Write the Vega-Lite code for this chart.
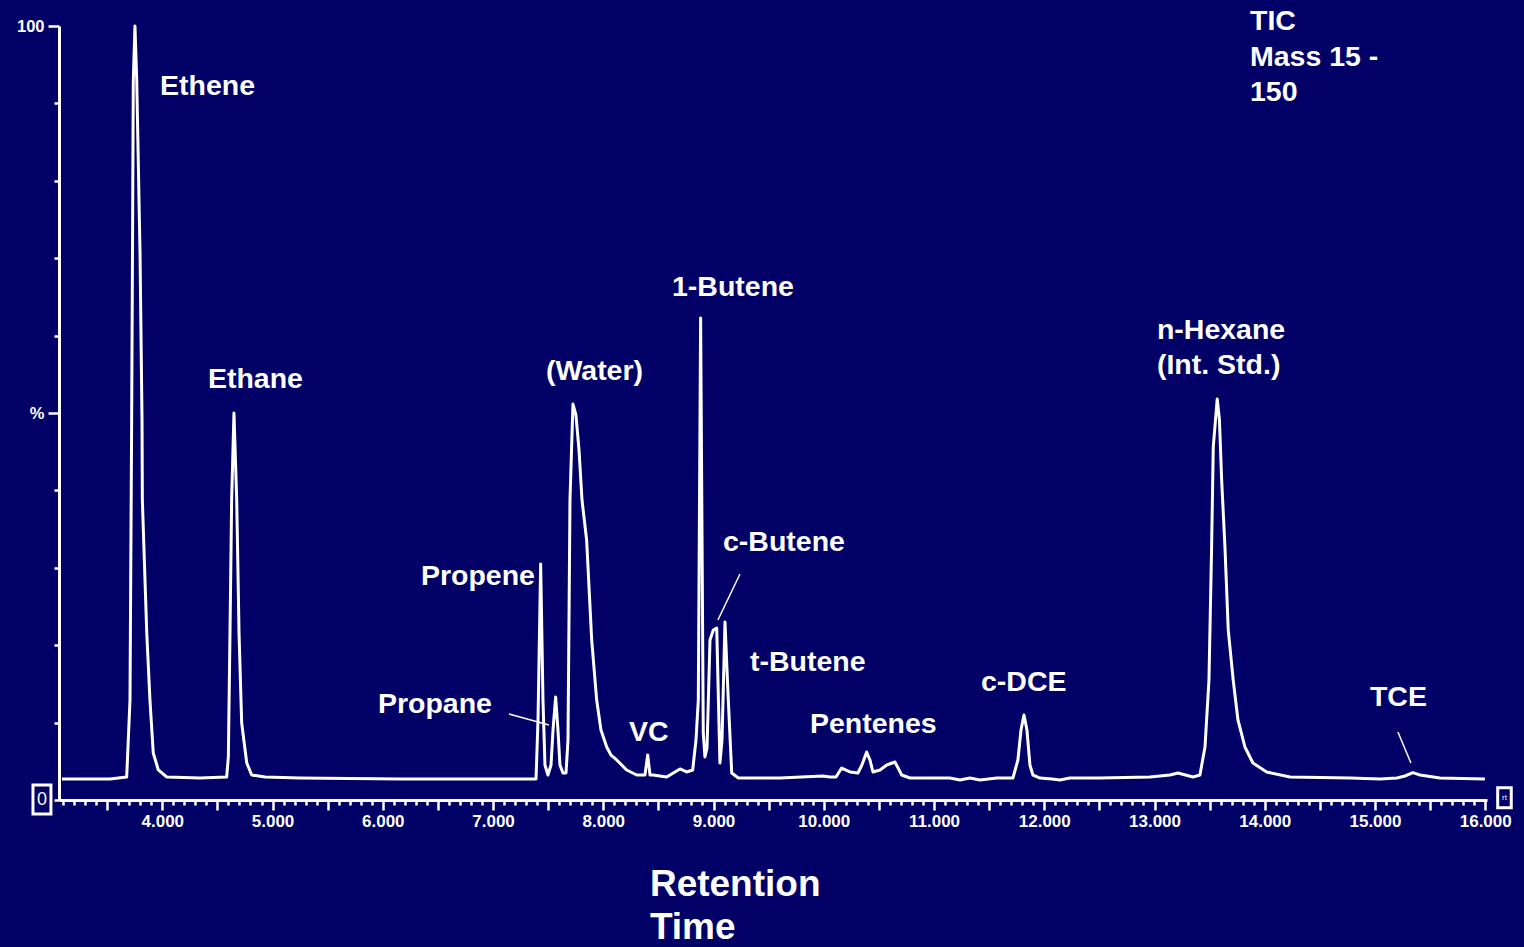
{
  "$schema": "https://vega.github.io/schema/vega-lite/v6.json",
  "width": 1428,
  "height": 774,
  "autosize": {"type": "none"},
  "padding": {"left": 59, "top": 26, "right": 37, "bottom": 147},
  "background": "#000066",
  "config": {
    "view": {"stroke": null},
    "text": {"font": "Liberation Sans", "fontWeight": "bold", "color": "white"}
  },
  "datasets": {
    "trace": [
      {"t": 3.090, "v": 2.71}, {"t": 3.526, "v": 2.71}, {"t": 3.677, "v": 2.97}, {"t": 3.707, "v": 12.92},
      {"t": 3.722, "v": 49.10}, {"t": 3.731, "v": 74.94}, {"t": 3.737, "v": 93.02}, {"t": 3.752, "v": 100},
      {"t": 3.768, "v": 93.02}, {"t": 3.798, "v": 70.67}, {"t": 3.816, "v": 49.10}, {"t": 3.819, "v": 38.76},
      {"t": 3.859, "v": 21.58}, {"t": 3.888, "v": 12.92}, {"t": 3.918, "v": 6.07}, {"t": 3.964, "v": 3.88},
      {"t": 4.040, "v": 2.97}, {"t": 4.342, "v": 2.84}, {"t": 4.584, "v": 2.97}, {"t": 4.599, "v": 5.56},
      {"t": 4.614, "v": 21.58}, {"t": 4.629, "v": 38.76}, {"t": 4.650, "v": 50.0}, {"t": 4.675, "v": 38.76},
      {"t": 4.696, "v": 21.58}, {"t": 4.720, "v": 9.95}, {"t": 4.766, "v": 4.78}, {"t": 4.811, "v": 3.23},
      {"t": 4.932, "v": 2.97}, {"t": 5.249, "v": 2.84}, {"t": 6.156, "v": 2.71}, {"t": 7.063, "v": 2.71},
      {"t": 7.390, "v": 2.71}, {"t": 7.408, "v": 10.34}, {"t": 7.432, "v": 30.49}, {"t": 7.453, "v": 12.92},
      {"t": 7.471, "v": 4.52}, {"t": 7.498, "v": 3.23}, {"t": 7.526, "v": 4.52}, {"t": 7.544, "v": 9.04},
      {"t": 7.568, "v": 13.31}, {"t": 7.589, "v": 9.04}, {"t": 7.607, "v": 4.52}, {"t": 7.634, "v": 3.49},
      {"t": 7.662, "v": 3.49}, {"t": 7.680, "v": 7.75}, {"t": 7.698, "v": 38.76}, {"t": 7.725, "v": 51.16},
      {"t": 7.752, "v": 49.74}, {"t": 7.780, "v": 45.22}, {"t": 7.807, "v": 38.76}, {"t": 7.849, "v": 33.59},
      {"t": 7.895, "v": 20.67}, {"t": 7.940, "v": 12.92}, {"t": 7.979, "v": 9.04}, {"t": 8.031, "v": 6.85},
      {"t": 8.070, "v": 5.81}, {"t": 8.122, "v": 5.17}, {"t": 8.212, "v": 3.88}, {"t": 8.303, "v": 3.23},
      {"t": 8.378, "v": 3.23}, {"t": 8.403, "v": 5.81}, {"t": 8.424, "v": 3.23}, {"t": 8.451, "v": 3.23},
      {"t": 8.575, "v": 2.97}, {"t": 8.650, "v": 3.62}, {"t": 8.696, "v": 4.01}, {"t": 8.756, "v": 3.62},
      {"t": 8.811, "v": 3.88}, {"t": 8.841, "v": 7.75}, {"t": 8.862, "v": 12.92}, {"t": 8.883, "v": 62.27},
      {"t": 8.907, "v": 8.66}, {"t": 8.922, "v": 5.56}, {"t": 8.941, "v": 6.72}, {"t": 8.968, "v": 20.67},
      {"t": 8.998, "v": 21.96}, {"t": 9.029, "v": 22.22}, {"t": 9.058, "v": 4.78}, {"t": 9.077, "v": 7.75},
      {"t": 9.104, "v": 23.0}, {"t": 9.134, "v": 12.92}, {"t": 9.165, "v": 3.49}, {"t": 9.225, "v": 2.84},
      {"t": 9.603, "v": 2.84}, {"t": 9.993, "v": 3.10}, {"t": 10.056, "v": 2.97}, {"t": 10.111, "v": 2.97},
      {"t": 10.162, "v": 4.13}, {"t": 10.238, "v": 3.62}, {"t": 10.310, "v": 3.49}, {"t": 10.346, "v": 4.52},
      {"t": 10.389, "v": 6.20}, {"t": 10.419, "v": 5.17}, {"t": 10.446, "v": 3.62}, {"t": 10.510, "v": 3.88},
      {"t": 10.571, "v": 4.52}, {"t": 10.646, "v": 4.91}, {"t": 10.707, "v": 3.23}, {"t": 10.782, "v": 2.84},
      {"t": 11.145, "v": 2.84}, {"t": 11.235, "v": 2.58}, {"t": 11.326, "v": 2.84}, {"t": 11.417, "v": 2.58},
      {"t": 11.571, "v": 2.84}, {"t": 11.716, "v": 2.84}, {"t": 11.761, "v": 5.17}, {"t": 11.789, "v": 9.04},
      {"t": 11.816, "v": 10.98}, {"t": 11.843, "v": 9.04}, {"t": 11.870, "v": 4.52}, {"t": 11.897, "v": 3.23},
      {"t": 11.961, "v": 2.84}, {"t": 12.070, "v": 2.71}, {"t": 12.142, "v": 2.58}, {"t": 12.233, "v": 2.84},
      {"t": 12.505, "v": 2.84}, {"t": 12.959, "v": 2.97}, {"t": 13.140, "v": 3.23}, {"t": 13.213, "v": 3.49},
      {"t": 13.349, "v": 2.97}, {"t": 13.412, "v": 3.23}, {"t": 13.458, "v": 6.85}, {"t": 13.494, "v": 15.50},
      {"t": 13.518, "v": 32.69}, {"t": 13.533, "v": 45.61}, {"t": 13.569, "v": 51.81}, {"t": 13.589, "v": 49.10},
      {"t": 13.609, "v": 41.34}, {"t": 13.639, "v": 32.69}, {"t": 13.669, "v": 21.96}, {"t": 13.714, "v": 15.50},
      {"t": 13.757, "v": 10.34}, {"t": 13.820, "v": 6.85}, {"t": 13.893, "v": 4.78}, {"t": 14.017, "v": 3.62},
      {"t": 14.229, "v": 2.97}, {"t": 14.773, "v": 2.84}, {"t": 15.045, "v": 2.71}, {"t": 15.199, "v": 2.84},
      {"t": 15.272, "v": 3.10}, {"t": 15.344, "v": 3.53}, {"t": 15.408, "v": 3.23}, {"t": 15.589, "v": 2.84},
      {"t": 15.997, "v": 2.71}
    ],
    "labels": [
      {"t": 3.979, "v": 92.25, "label": "Ethene"},
      {"t": 4.414, "v": 54.39, "label": "Ethane"},
      {"t": 6.346, "v": 28.94, "label": "Propene"},
      {"t": 5.956, "v": 12.40, "label": "Propane"},
      {"t": 7.480, "v": 55.43, "label": "(Water)"},
      {"t": 8.233, "v": 8.79, "label": "VC"},
      {"t": 8.623, "v": 66.28, "label": "1-Butene"},
      {"t": 9.086, "v": 33.33, "label": "c-Butene"},
      {"t": 9.331, "v": 17.83, "label": "t-Butene"},
      {"t": 9.875, "v": 9.82, "label": "Pentenes"},
      {"t": 11.426, "v": 15.25, "label": "c-DCE"},
      {"t": 13.022, "v": 60.72, "label": "n-Hexane"},
      {"t": 13.022, "v": 56.20, "label": "(Int. Std.)"},
      {"t": 14.954, "v": 13.31, "label": "TCE"},
      {"t": 13.866, "v": 100.65, "label": "TIC"},
      {"t": 13.866, "v": 95.99, "label": "Mass 15 -"},
      {"t": 13.866, "v": 91.47, "label": "150"}
    ],
    "titles": [
      {"t": 8.423, "v": -11.0, "label": "Retention"},
      {"t": 8.423, "v": -16.5, "label": "Time"}
    ],
    "leaders": [
      {"t": 7.145, "v": 11.11, "t2": 7.507, "v2": 9.69},
      {"t": 9.240, "v": 29.20, "t2": 9.040, "v2": 23.26},
      {"t": 15.208, "v": 8.79, "t2": 15.326, "v2": 4.78}
    ],
    "boxes": [
      {"t": 2.827, "t2": 2.990, "v": 1.94, "v2": -1.81},
      {"t": 16.113, "t2": 16.236, "v": 1.59, "v2": -0.99}
    ],
    "boxtext": [
      {"t": 2.909, "v": 0.06, "label": "0", "size": 18},
      {"t": 16.175, "v": 0.3, "label": "rt", "size": 8}
    ]
  },
  "layer": [
    {
      "data": {"name": "trace"},
      "mark": {"type": "line", "color": "white", "strokeWidth": 3, "strokeJoin": "round", "clip": false},
      "encoding": {
        "x": {
          "field": "t", "type": "quantitative", "title": null,
          "scale": {"domain": [3.063, 16.016], "nice": false, "zero": false},
          "axis": {
            "title": null, "orient": "bottom", "tickCount": 500,
            "values": [3.1,3.2,3.3,3.4,3.5,3.6,3.7,3.8,3.9,4.0,4.1,4.2,4.3,4.4,4.5,4.6,4.7,4.8,4.9,5.0,5.1,5.2,5.3,5.4,5.5,5.6,5.7,5.8,5.9,6.0,6.1,6.2,6.3,6.4,6.5,6.6,6.7,6.8,6.9,7.0,7.1,7.2,7.3,7.4,7.5,7.6,7.7,7.8,7.9,8.0,8.1,8.2,8.3,8.4,8.5,8.6,8.7,8.8,8.9,9.0,9.1,9.2,9.3,9.4,9.5,9.6,9.7,9.8,9.9,10.0,10.1,10.2,10.3,10.4,10.5,10.6,10.7,10.8,10.9,11.0,11.1,11.2,11.3,11.4,11.5,11.6,11.7,11.8,11.9,12.0,12.1,12.2,12.3,12.4,12.5,12.6,12.7,12.8,12.9,13.0,13.1,13.2,13.3,13.4,13.5,13.6,13.7,13.8,13.9,14.0,14.1,14.2,14.3,14.4,14.5,14.6,14.7,14.8,14.9,15.0,15.1,15.2,15.3,15.4,15.5,15.6,15.7,15.8,15.9,16.0],
            "labelExpr": "abs(datum.value - round(datum.value)) < 0.001 ? format(datum.value, '.3f') : ''",
            "labelOverlap": false, "labelFlush": false,
            "labelFont": "Liberation Sans", "labelFontWeight": "bold", "labelFontSize": 17, "labelColor": "white",
            "labelPadding": 3,
            "tickSize": {"condition": {"test": "abs(datum.value*2 - round(datum.value*2)) < 0.001", "value": 10}, "value": 5},
            "tickColor": "white", "tickWidth": 2.5,
            "domainColor": "white", "domainWidth": 3, "grid": false
          }
        },
        "y": {
          "field": "v", "type": "quantitative", "title": null,
          "scale": {"domain": [0, 100], "nice": false, "zero": false},
          "axis": {
            "title": null, "orient": "left", "tickCount": 50,
            "values": [0,10,20,30,40,50,60,70,80,90,100],
            "labelExpr": "datum.value == 100 ? '100' : (datum.value == 50 ? '%' : '')",
            "labelOverlap": false, "labelFlush": false,
            "labelFont": "Liberation Sans", "labelFontWeight": "bold", "labelFontSize": 16.5, "labelColor": "white",
            "labelPadding": 4,
            "tickSize": {"condition": {"test": "datum.value == 50 || datum.value == 100", "value": 11}, "value": 5},
            "tickColor": "white", "tickWidth": 2.5,
            "domainColor": "white", "domainWidth": 3, "grid": false
          }
        }
      }
    },
    {
      "data": {"name": "labels"},
      "mark": {"type": "text", "align": "left", "baseline": "middle", "fontSize": 28.5},
      "encoding": {
        "x": {"field": "t", "type": "quantitative", "title": null},
        "y": {"field": "v", "type": "quantitative", "title": null},
        "text": {"field": "label"}
      }
    },
    {
      "data": {"name": "titles"},
      "mark": {"type": "text", "align": "left", "baseline": "middle", "fontSize": 37},
      "encoding": {
        "x": {"field": "t", "type": "quantitative", "title": null},
        "y": {"field": "v", "type": "quantitative", "title": null},
        "text": {"field": "label"}
      }
    },
    {
      "data": {"name": "leaders"},
      "mark": {"type": "rule", "color": "white", "strokeWidth": 1.5},
      "encoding": {
        "x": {"field": "t", "type": "quantitative", "title": null},
        "y": {"field": "v", "type": "quantitative", "title": null},
        "x2": {"field": "t2"},
        "y2": {"field": "v2"}
      }
    },
    {
      "data": {"name": "boxes"},
      "mark": {"type": "rect", "fill": "#000066", "stroke": "white", "strokeWidth": 3},
      "encoding": {
        "x": {"field": "t", "type": "quantitative", "title": null},
        "x2": {"field": "t2"},
        "y": {"field": "v", "type": "quantitative", "title": null},
        "y2": {"field": "v2"}
      }
    },
    {
      "data": {"name": "boxtext"},
      "mark": {"type": "text", "align": "center", "baseline": "middle", "fontWeight": "normal"},
      "encoding": {
        "x": {"field": "t", "type": "quantitative", "title": null},
        "y": {"field": "v", "type": "quantitative", "title": null},
        "text": {"field": "label"},
        "size": {"field": "size", "type": "quantitative", "scale": null, "legend": null}
      }
    }
  ]
}
